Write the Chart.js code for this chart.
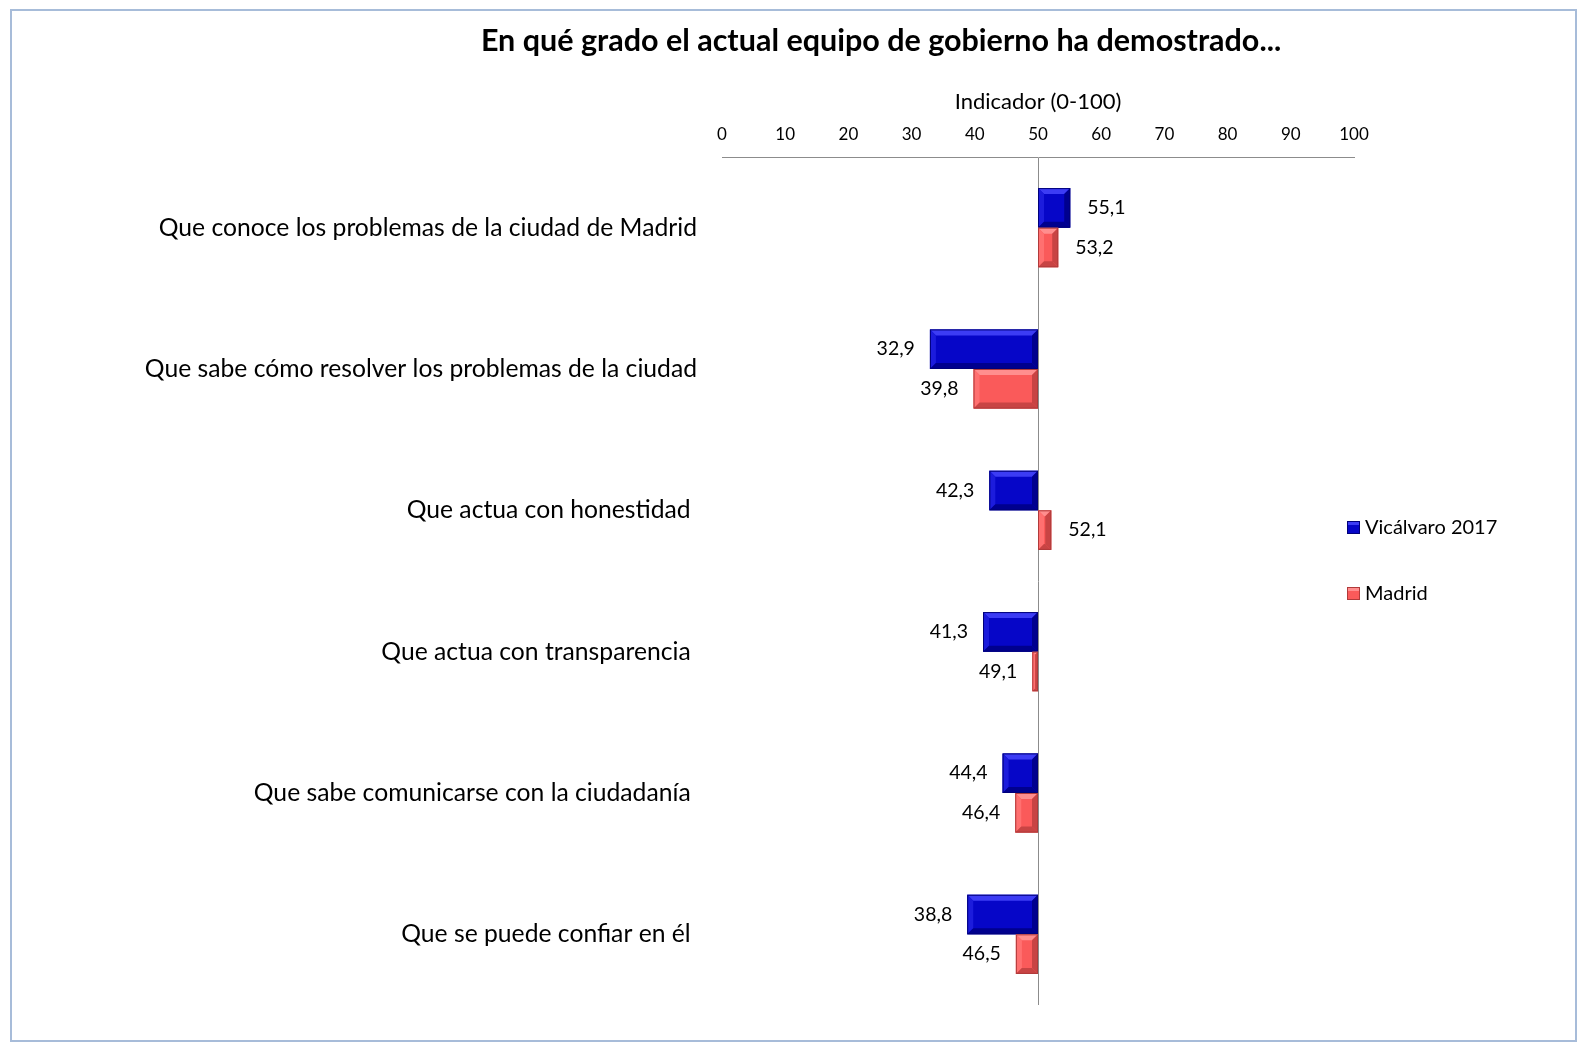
<!DOCTYPE html>
<html>
<head>
<meta charset="utf-8">
<title>En qué grado el actual equipo de gobierno ha demostrado...</title>
<script src="https://cdn.jsdelivr.net/npm/chart.js@4"></script>
<style>
    html, body { margin: 0; padding: 0; background: #ffffff; }
    #marco { position: absolute; left: 10px; top: 9px; width: 1563px; height: 1029px; border: 2px solid #a7bcd9; }
    #grafico { position: absolute; left: 0; top: 0; }
</style>
</head>
<body>
<div id="marco"></div>
<canvas id="grafico" width="1588" height="1045"></canvas>
<script>
// Datos del gráfico
const categorias = [
    "Que conoce los problemas de la ciudad de Madrid",
    "Que sabe cómo resolver los problemas de la ciudad",
    "Que actua con honestidad ",
    "Que actua con transparencia ",
    "Que sabe comunicarse con la ciudadanía ",
    "Que se puede confiar en él "
];
const vicalvaro = [55.1, 32.9, 42.3, 41.3, 44.4, 38.8];
const madrid = [53.2, 39.8, 52.1, 49.1, 46.4, 46.5];
const nombresSeries = ["Vicálvaro 2017", "Madrid"];
const valorReferencia = 50;
const ejeMin = 0;
const ejeMax = 100;
const ejePaso = 10;

const tituloGrafico = "En qué grado el actual equipo de gobierno ha demostrado...";
const tituloEje = "Indicador (0-100)";

const fuente = "Lato, 'Open Sans', sans-serif";
// colores: base, borde, bisel claro, bisel oscuro
const azul = { base: '#0606c8', borde: '#00007a', claro: '#3c3cf4', lado: '#1c1cdc', oscuro: '#00008e' };
const rojo = { base: '#fa5a5a', borde: '#b03a3a', claro: '#ff8e8e', lado: '#ff7070', oscuro: '#c84444' };

Chart.defaults.font.family = fuente;
Chart.defaults.color = '#000';

// Formato con coma decimal
function formatoValor(v) {
    return v.toFixed(1).replace('.', ',');
}

// Dibuja un trapecio (para el efecto de bisel)
function poligono(c, pts, color) {
    c.beginPath();
    c.moveTo(pts[0][0], pts[0][1]);
    for (let k = 1; k < pts.length; k++) c.lineTo(pts[k][0], pts[k][1]);
    c.closePath();
    c.fillStyle = color;
    c.fill();
}

// Plugin: bisel, título, etiquetas de datos y leyenda
const extras = {
    id: 'extras',
    afterDatasetsDraw(chart) {
        const c = chart.ctx;
        const ejeX = chart.scales.x;
        c.save();

        // bisel de las barras
        chart.data.datasets.forEach((ds, i) => {
            const col = ds.paleta;
            chart.getDatasetMeta(i).data.forEach((bar, j) => {
                const x1 = Math.min(bar.x, bar.base), x2 = Math.max(bar.x, bar.base);
                const y1 = bar.y - bar.height / 2, y2 = bar.y + bar.height / 2;
                const b = Math.min(6, (x2 - x1) / 2, (y2 - y1) / 2);
                poligono(c, [[x1, y1], [x2, y1], [x2 - b, y1 + b], [x1 + b, y1 + b]], col.claro);
                poligono(c, [[x1, y1], [x1 + b, y1 + b], [x1 + b, y2 - b], [x1, y2]], col.lado);
                poligono(c, [[x2, y1], [x2, y2], [x2 - b, y2 - b], [x2 - b, y1 + b]], col.oscuro);
                poligono(c, [[x1, y2], [x1 + b, y2 - b], [x2 - b, y2 - b], [x2, y2]], col.oscuro);
                c.strokeStyle = col.borde;
                c.lineWidth = 1;
                c.strokeRect(x1 + 0.5, y1 + 0.5, x2 - x1 - 1, y2 - y1 - 1);
            });
        });

        // etiquetas de valores
        c.font = '19.5px ' + fuente;
        c.fillStyle = '#000';
        c.textBaseline = 'middle';
        chart.data.datasets.forEach((ds, i) => {
            const meta = chart.getDatasetMeta(i);
            meta.data.forEach((bar, j) => {
                const v = ds.valores[j];
                const px = ejeX.getPixelForValue(v);
                if (v >= valorReferencia) {
                    c.textAlign = 'left';
                    c.fillText(formatoValor(v), px + 17, bar.y);
                } else {
                    c.textAlign = 'right';
                    c.fillText(formatoValor(v), px - 15, bar.y);
                }
            });
        });

        // título
        c.font = 'bold 30.5px ' + fuente;
        c.textAlign = 'center';
        c.fillText(tituloGrafico, 881, 41);

        // leyenda
        const paletas = [azul, rojo];
        const ys = [527, 593];
        c.font = '20px ' + fuente;
        c.textAlign = 'left';
        nombresSeries.forEach((n, i) => {
            const p = paletas[i];
            c.fillStyle = p.base;
            c.fillRect(1347, ys[i] - 6, 13, 13);
            c.fillStyle = p.claro;
            c.fillRect(1348, ys[i] - 5, 11, 3);
            c.strokeStyle = p.borde;
            c.lineWidth = 1;
            c.strokeRect(1347.5, ys[i] - 5.5, 12, 12);
            c.fillStyle = '#000';
            c.fillText(n, 1365, ys[i] + 1);
        });

        c.restore();
    }
};

const ctx = document.getElementById('grafico').getContext('2d');
const grafico = new Chart(ctx, {
    type: 'bar',
    data: {
        labels: categorias,
        datasets: [{
            label: nombresSeries[0],
            valores: vicalvaro,
            paleta: azul,
            data: vicalvaro.map(v => [valorReferencia, v]),
            backgroundColor: azul.base,
            borderWidth: 0
        }, {
            label: nombresSeries[1],
            valores: madrid,
            paleta: rojo,
            data: madrid.map(v => [valorReferencia, v]),
            backgroundColor: rojo.base,
            borderWidth: 0
        }]
    },
    options: {
        indexAxis: 'y',
        responsive: false,
        animation: false,
        categoryPercentage: 0.56,
        barPercentage: 1,
        layout: { padding: { left: 0, right: 234, top: 58, bottom: 40 } },
        plugins: {
            legend: { display: false },
            tooltip: { enabled: false },
            title: { display: false }
        },
        scales: {
            x: {
                position: 'top',
                min: ejeMin,
                max: ejeMax,
                ticks: { stepSize: ejePaso, font: { size: 17 }, color: '#000', padding: 12 },
                grid: {
                    drawTicks: false,
                    color: c => (c.tick && c.tick.value === valorReferencia) ? '#8c8c8c' : 'rgba(0,0,0,0)'
                },
                border: { display: true, color: '#8c8c8c' },
                title: { display: true, text: tituloEje, font: { size: 22 }, color: '#000', padding: { top: 31, bottom: 0 } },
                afterFit: s => { s.height = 99; }
            },
            y: {
                ticks: { font: { size: 24.7 }, color: '#000', padding: 25 },
                grid: { display: false, drawTicks: false },
                border: { display: false },
                afterFit: s => { s.width = 722; }
            }
        }
    },
    plugins: [extras]
});
</script>
</body>
</html>
